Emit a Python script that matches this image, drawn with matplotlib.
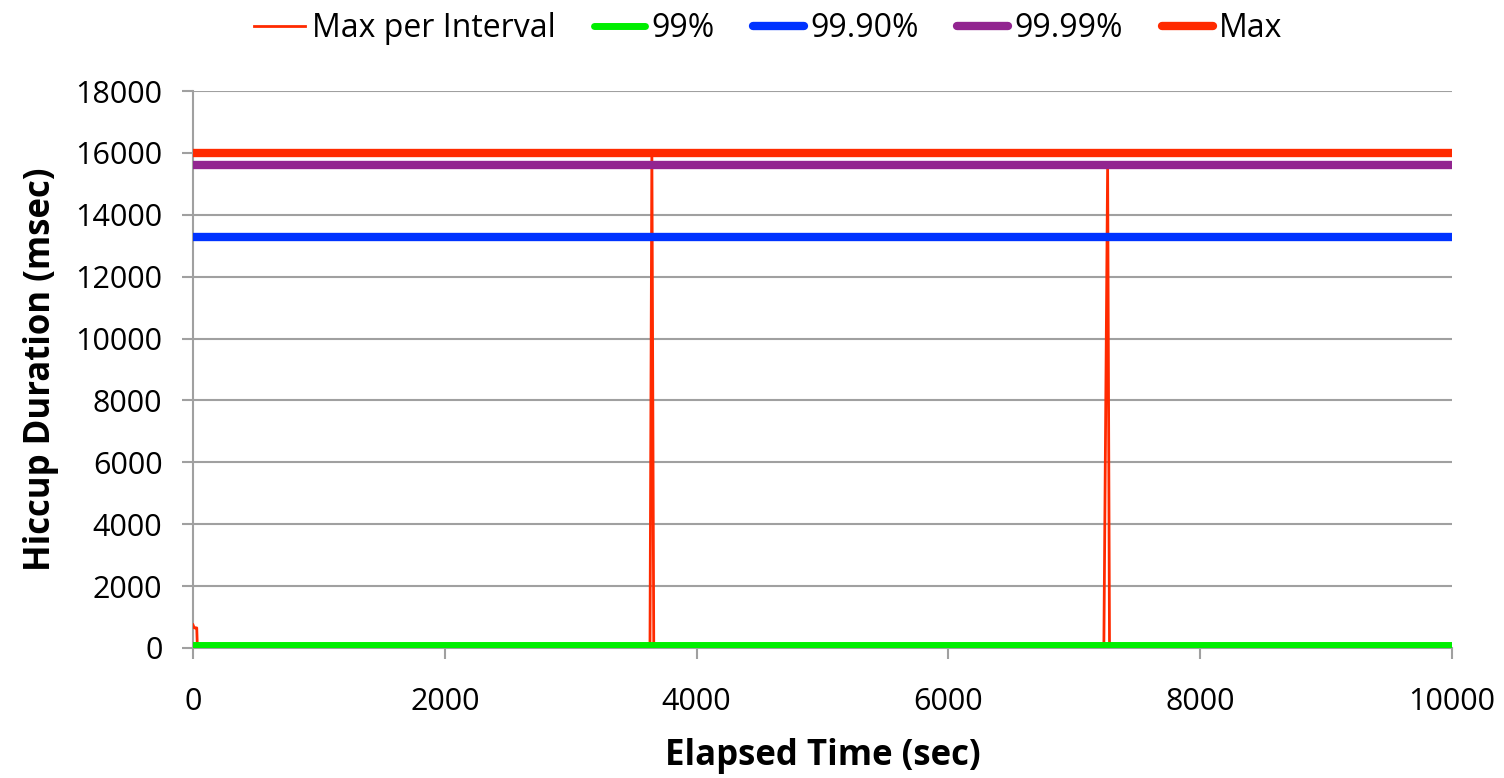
#!/usr/bin/env python3
#
# plot.py - hiccup duration chart, max per interval with percentile lines
#

import matplotlib
matplotlib.use('Agg')
import matplotlib.pyplot as plt

# Max per Interval samples (sec, msec)
elapsed = [0, 5, 10, 15, 20, 25, 30, 35, 3630, 3645, 3660, 7235, 7265, 7280, 10000]
max_per_interval = [750, 700, 650, 650, 650, 650, 650, 20, 20, 16000, 20, 20, 15600, 20, 20]

# percentile levels (msec)
p99 = 100
p999 = 13280
p9999 = 15600
pmax = 16000

x_range = [0, 10000]
yticks = list(range(0, 18001, 2000))
xticks = list(range(0, 10001, 2000))

plt.rcParams['font.family'] = ['Open Sans', 'DejaVu Sans']

fig = plt.figure(figsize=(15.04, 7.78), dpi=100)
ax = fig.add_axes([0.1283, 0.1671, 0.8371, 0.7159])

ax.plot(elapsed, max_per_interval, color='#ff2a00', lw=2, label='Max per Interval', zorder=3)
ax.plot(x_range, [p99, p99], color='#00ee00', lw=5, label='99%', solid_capstyle='round', zorder=4)
ax.plot(x_range, [p999, p999], color='#0033ff', lw=6, label='99.90%', solid_capstyle='round', zorder=4)
ax.plot(x_range, [p9999, p9999], color='#922590', lw=6, label='99.99%', solid_capstyle='round', zorder=4)
ax.plot(x_range, [pmax, pmax], color='#ff2a00', lw=6, label='Max', solid_capstyle='round', zorder=4)

ax.set_xlim(0, 10000)
ax.set_ylim(0, 18000)
ax.set_xticks(xticks)
ax.set_yticks(yticks)
ax.grid(axis='y', color='#a0a0a0', lw=1.5)
ax.set_axisbelow(True)
for s in ['top', 'right']:
    ax.spines[s].set_visible(False)
for s in ['left', 'bottom']:
    ax.spines[s].set_color('#a0a0a0')
    ax.spines[s].set_linewidth(1.5)
ax.tick_params(axis='both', colors='#a0a0a0', width=1.5, length=8, labelsize=22,
               labelcolor='black')
ax.tick_params(axis='x', pad=20)
ax.tick_params(axis='y', pad=14)

ax.set_xlabel('Elapsed Time (sec)', fontsize=25, fontweight='bold', labelpad=15)
ax.set_ylabel('Hiccup Duration (msec)', fontsize=25, fontweight='bold', labelpad=12)

leg = ax.legend(loc='center', bbox_to_anchor=(0.457, 1.112), ncol=5, frameon=False,
                fontsize=23, handlelength=1.6, handletextpad=0.2, columnspacing=1.2)

fig.savefig('out.png', dpi=100)
